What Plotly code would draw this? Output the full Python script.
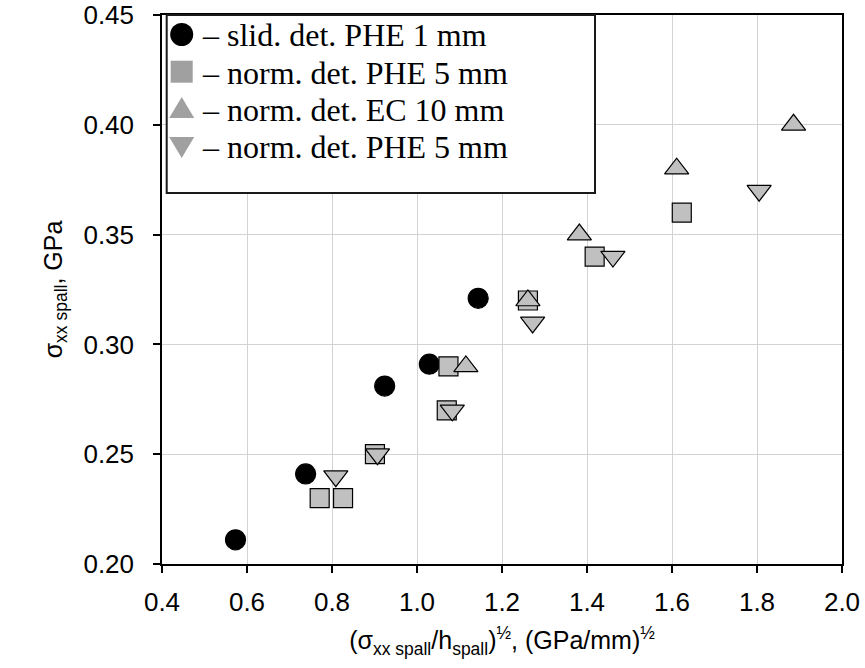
import plotly.graph_objects as go

# ---- data ----
circ_x = [0.573, 0.738, 0.924, 1.029, 1.144]
circ_y = [0.211, 0.241, 0.281, 0.291, 0.321]

sq_x = [0.771, 0.826, 0.901, 1.070, 1.074, 1.261, 1.418, 1.623]
sq_y = [0.230, 0.230, 0.250, 0.270, 0.290, 0.320, 0.340, 0.360]

up_x = [1.115, 1.261, 1.382, 1.611, 1.886]
up_y = [0.290, 0.320, 0.350, 0.380, 0.400]

dn_x = [0.809, 0.907, 1.083, 1.272, 1.461, 1.805]
dn_y = [0.240, 0.250, 0.270, 0.310, 0.340, 0.370]

names = ["– slid. det. PHE 1 mm", "– norm. det. PHE 5 mm",
         "– norm. det. EC 10 mm", "– norm. det. PHE 5 mm"]

x_ticks = [0.4, 0.6, 0.8, 1.0, 1.2, 1.4, 1.6, 1.8, 2.0]
y_ticks = [0.20, 0.25, 0.30, 0.35, 0.40, 0.45]

GRAY = "#c0c0c0"
LEG_GRAY = "#a0a0a0"

fig = go.Figure()

series = [
    (circ_x, circ_y, "circle", "black", 20),
    (sq_x, sq_y, "square", GRAY, 19),
    (up_x, up_y, "triangle-up", GRAY, 21),
    (dn_x, dn_y, "triangle-down", GRAY, 21),
]

for (xs, ys, sym, col, sz), nm in zip(series, names):
    fig.add_trace(go.Scatter(
        x=xs, y=ys, mode="markers", name=nm, showlegend=False,
        marker=dict(symbol=sym, size=sz, color=col,
                    line=dict(color="black", width=1.2)),
    ))

axis_common = dict(
    showline=True, linecolor="black", linewidth=1.5, mirror=True,
    ticks="outside", ticklen=7, tickcolor="black", tickwidth=1.5,
    showgrid=True, gridcolor="#d3d3d3", gridwidth=1, zeroline=False,
    automargin=False, ticklabeloverflow="allow",
    tickfont=dict(family="Liberation Sans, Arial", size=26, color="black"),
)

fig.update_xaxes(
    range=[0.4, 2.0], tickvals=x_ticks, tickformat=".1f", ticklabelstandoff=7,
    title=dict(text="(σ<sub>xx spall</sub>/h<sub>spall</sub>)<sup>½</sup>, (GPa/mm)<sup>½</sup>",
               font=dict(family="Liberation Sans, Arial", size=25, color="black"),
               standoff=16),
    **axis_common,
)
fig.update_yaxes(
    range=[0.20, 0.45], tickvals=y_ticks, tickformat=".2f", ticklabelstandoff=14,
    title=dict(text="σ<sub>xx spall</sub>, GPa",
               font=dict(family="Liberation Sans, Arial", size=25, color="black"),
               standoff=14),
    **axis_common,
)

# ---- legend box (drawn manually to match the reference's large keys) ----
PLOT_L, PLOT_T, PLOT_W, PLOT_H = 162.0, 15.0, 680.0, 549.0


def px_to_paper(px, py):
    return (px - PLOT_L) / PLOT_W, 1 - (py - PLOT_T) / PLOT_H


bx0, by0 = px_to_paper(166.7, 15.0)
bx1, by1 = px_to_paper(595.0, 193.0)
fig.add_shape(type="rect", xref="paper", yref="paper",
              x0=bx0, x1=bx1, y0=by1, y1=by0,
              line=dict(color="#1a1a1a", width=2), fillcolor="white",
              layer="above")

leg_cols = ["black", LEG_GRAY, LEG_GRAY, LEG_GRAY]
key_paths = {
    "square": "M-11,-11 L11,-11 L11,11 L-11,11 Z",
    "triangle-up": "M-12.5,-9 L12.5,-9 L0,12 Z",
    "triangle-down": "M-12.5,9 L12.5,9 L0,-12 Z",
}
ROW0, PITCH = 34.5, 37.2
for i, ((xs, ys, sym, col, sz), nm, lc) in enumerate(zip(series, names, leg_cols)):
    kx, ky = px_to_paper(181.7, ROW0 + PITCH * i)
    if sym == "circle":
        fig.add_shape(type="circle", xref="paper", yref="paper",
                      xsizemode="pixel", ysizemode="pixel",
                      xanchor=kx, yanchor=ky, x0=-11.5, x1=11.5, y0=-11.5, y1=11.5,
                      fillcolor=lc, line=dict(width=0), layer="above")
    else:
        fig.add_shape(type="path", xref="paper", yref="paper",
                      xsizemode="pixel", ysizemode="pixel",
                      xanchor=kx, yanchor=ky, path=key_paths[sym],
                      fillcolor=lc, line=dict(width=0), layer="above")
    tx, ty = px_to_paper(200.0, ROW0 + PITCH * i + 1)
    fig.add_annotation(x=tx, y=ty, xref="paper", yref="paper",
                       xanchor="left", yanchor="middle", showarrow=False,
                       text=nm,
                       font=dict(family="Liberation Serif, Times New Roman", size=32, color="black"))

fig.update_layout(
    width=865, height=668,
    margin=dict(l=162, r=23, t=15, b=104),
    plot_bgcolor="white", paper_bgcolor="white",
    showlegend=False,
)

# remove the browser's default 8px body margin so the figure sits at the page origin
fig.write_html("out.html",
               config={"displayModeBar": False},
               post_script="document.body.style.margin='0';document.body.style.overflow='hidden';")
